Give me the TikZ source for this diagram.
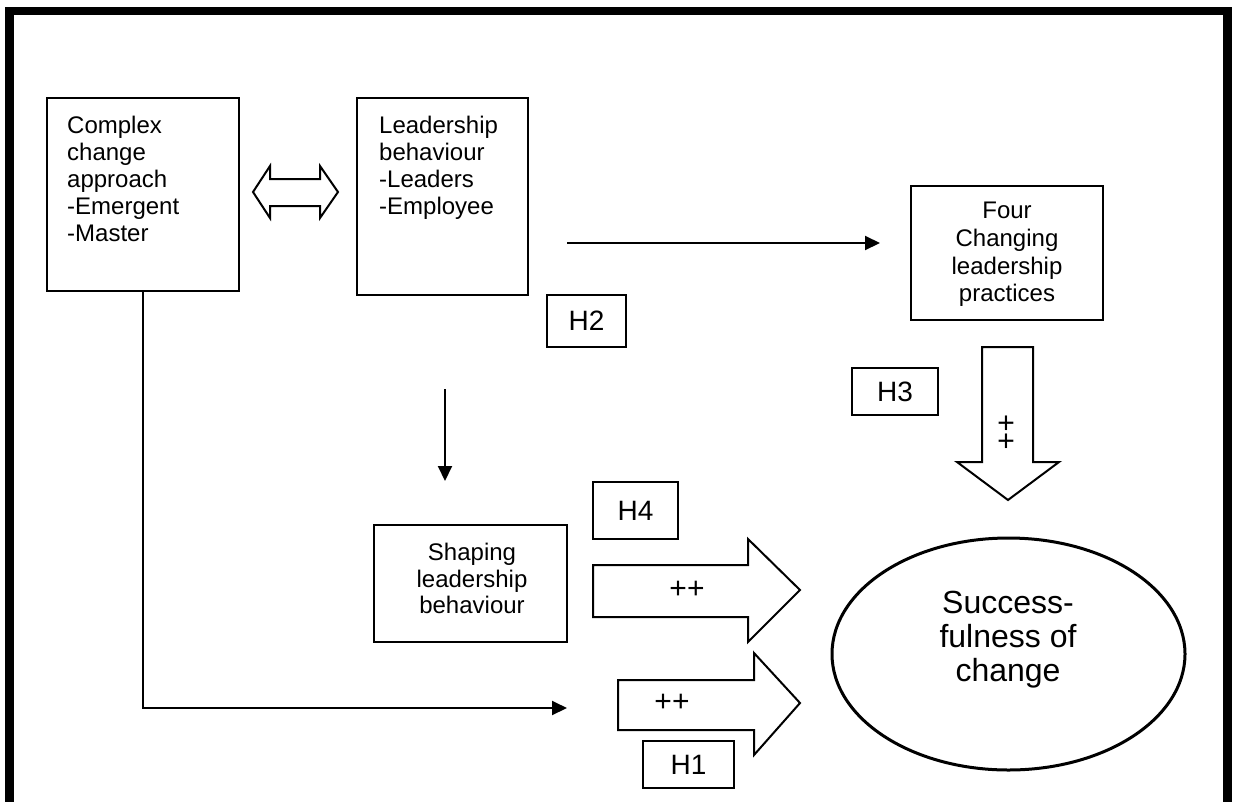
\documentclass[tikz,border=0pt]{standalone}
\usepackage{fontspec}
\setmainfont{Liberation Sans}
\usetikzlibrary{arrows.meta,shapes.geometric}

\begin{document}
\begin{tikzpicture}[x=1pt,y=-1pt,
  box/.style={draw,line width=2pt,inner sep=0pt},
  txt/.style={inner sep=0pt,font=\fontsize{24}{27}\selectfont},
  hbox/.style={draw,line width=2pt,inner sep=0pt,font=\fontsize{28}{32}\selectfont},
  plus/.style={inner sep=0pt,font=\fontsize{30}{32}\selectfont},
  blk/.style={draw,line width=2pt,line join=miter,fill=white},
  con/.style={line width=2pt,-{Triangle[length=15pt,width=14pt]}}]
\clip (0,0) rectangle (1234,801);
\fill[white] (0,0) rectangle (1234,801);

% outer frame, open at the bottom
\draw[line width=8.5pt,line join=miter] (9.5,820) -- (9.5,11) -- (1227.5,11) -- (1227.5,820);

% boxes
\node[box,minimum width=192pt,minimum height=193pt] (approach) at (143,194.5) {};
\node[txt,anchor=north west,align=left] (approachtxt) at (67,116)
  {Complex\\change\\approach\\-Emergent\\-Master};
\node[box,minimum width=171pt,minimum height=197pt] (behav) at (442.5,196.5) {};
\node[txt,anchor=north west,align=left] (behavtxt) at (379,116)
  {Leadership\\behaviour\\-Leaders\\-Employee};
\node[box,minimum width=192pt,minimum height=134pt] (practices) at (1007,253) {};
\node[txt,anchor=north,align=center,font=\fontsize{24}{27.7}\selectfont] (practicestxt) at (1007,202)
  {Four\\Changing\\leadership\\practices};
\node[box,minimum width=193pt,minimum height=117pt] (shaping) at (470.5,583.5) {};
\node[txt,anchor=north,align=center,font=\fontsize{24}{26.5}\selectfont] (shapingtxt) at (472,543)
  {Shaping\\leadership\\behaviour};
\node[draw,ellipse,line width=3pt,minimum width=353pt,minimum height=232pt] (success) at (1008.5,654) {};
\node[inner sep=0pt,anchor=north,align=center,font=\fontsize{32}{34}\selectfont] (successtxt) at (1008,591)
  {Success-\\fulness of\\change};

% hypothesis labels
\node[hbox,minimum width=79pt,minimum height=52pt] (h2) at (586.5,321) {H2};
\node[hbox,minimum width=86pt,minimum height=47pt] (h3) at (895,391.5) {H3};
\node[hbox,minimum width=85pt,minimum height=57pt] (h4) at (635.5,510.5) {H4};
\node[hbox,minimum width=91pt,minimum height=47pt] (h1) at (688.5,764.5) {H1};

% block arrows
\draw[blk] (253,192) -- (270,166) -- (270,179) -- (320,179) -- (320,166) -- (338,192)
  -- (320,218) -- (320,206) -- (270,206) -- (270,218) -- cycle;
\draw[blk] (982,347) -- (1033,347) -- (1033,462) -- (1059,462) -- (1008,500)
  -- (957,462) -- (982,462) -- cycle;
\node[plus,rotate=-90] (plus3) at (1005,432) {++};
\draw[blk] (593,565) -- (748,565) -- (748,539) -- (800,590) -- (748,642)
  -- (748,617) -- (593,617) -- cycle;
\node[plus] (plus4) at (687,590) {++};
\draw[blk] (618,680) -- (754,680) -- (754,653) -- (800,703) -- (754,755)
  -- (754,730) -- (618,730) -- cycle;
\node[plus] (plus1) at (672,703) {++};

% connectors
\coordinate (p1) at (567,243);
\coordinate (p2) at (880,243);
\coordinate (p3) at (445,389);
\coordinate (p4) at (445,481);
\coordinate (p5) at (567,708);
\draw[con] (p1) -- (p2);
\draw[con] (p3) -- (p4);
\draw[con] (approach.south) |- (p5);
\end{tikzpicture}
\end{document}
